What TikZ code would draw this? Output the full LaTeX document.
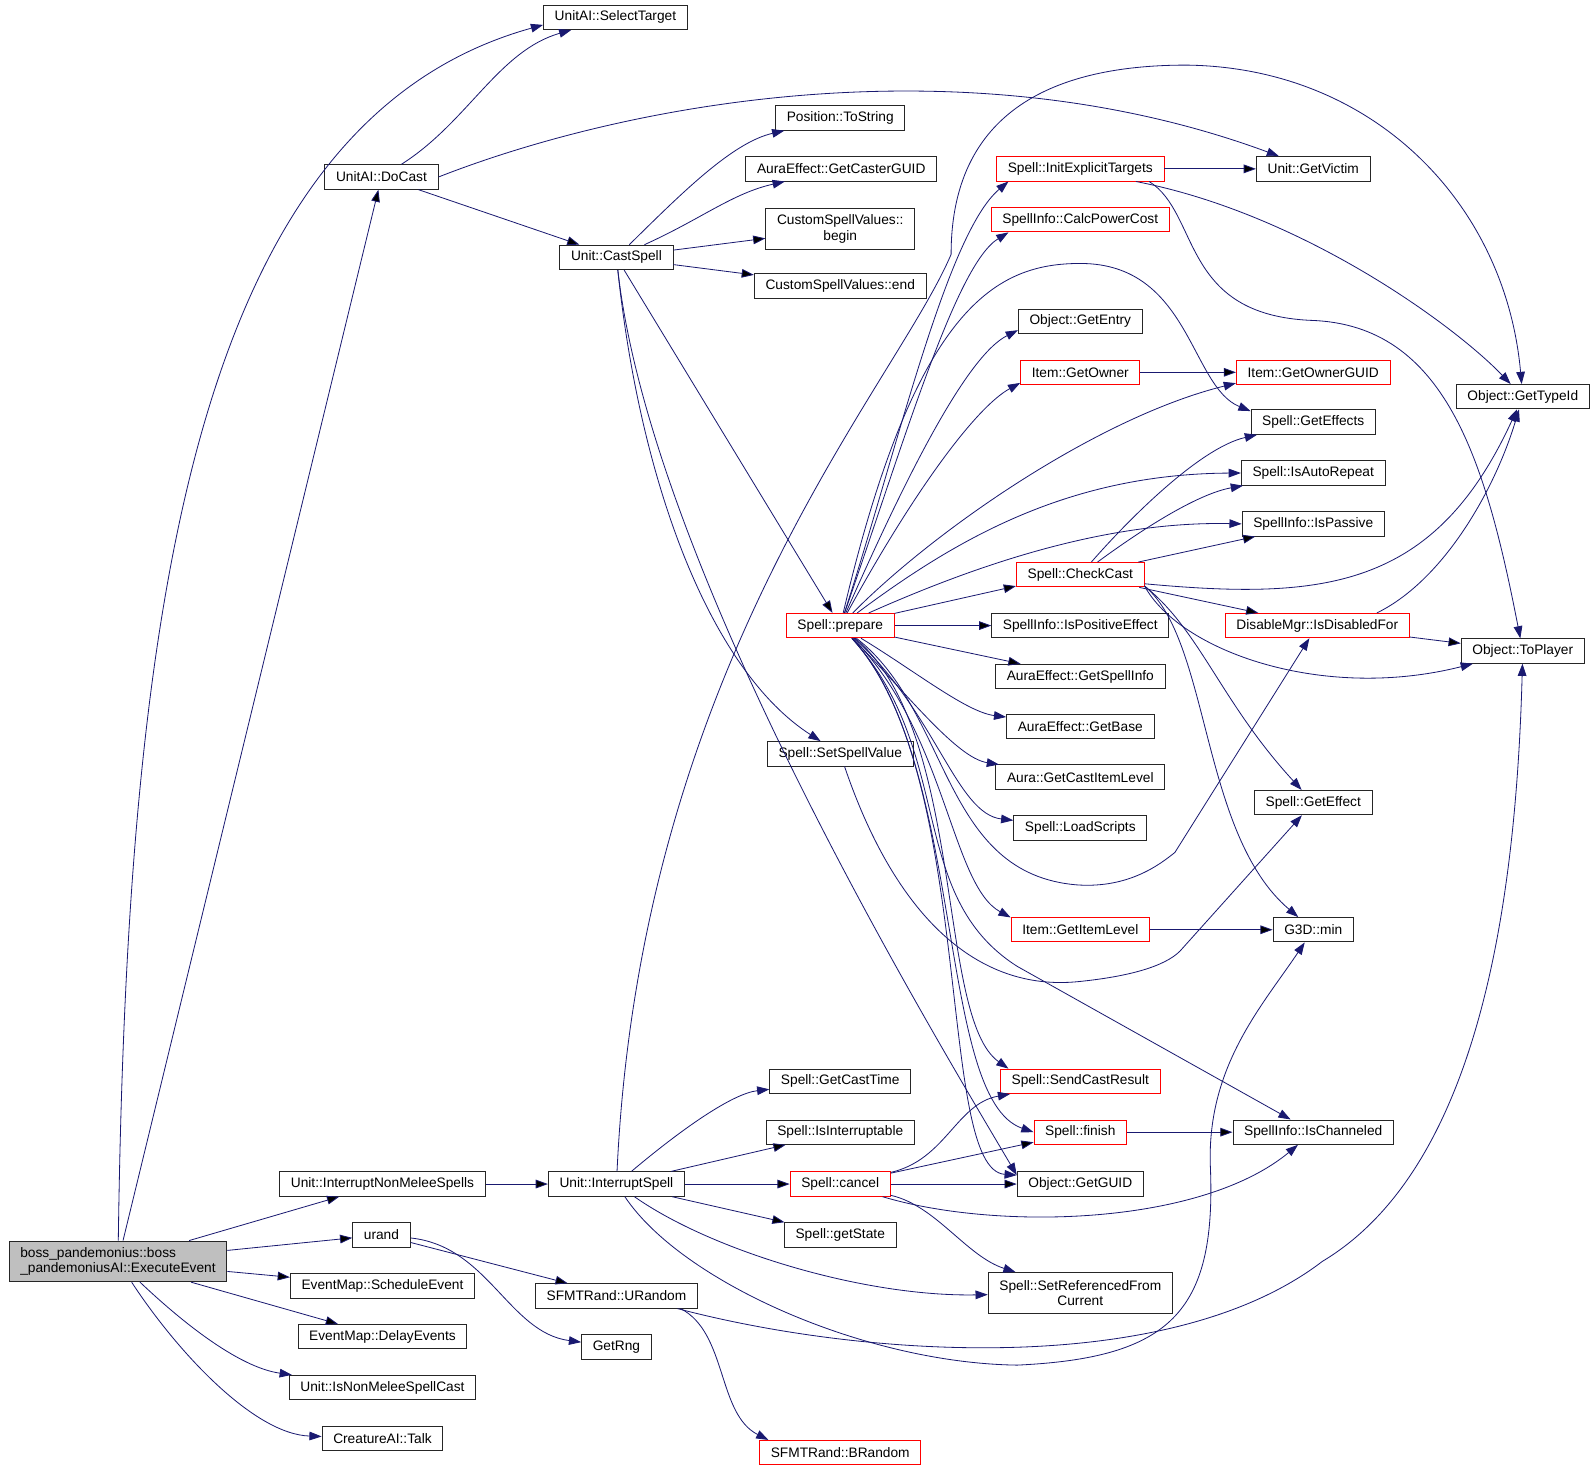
\documentclass[tikz,border=0pt]{standalone}
\usepackage{fontspec}
\setmainfont{Liberation Sans}
\usetikzlibrary{arrows.meta}
\definecolor{edgeblue}{HTML}{191970}
\definecolor{fngray}{HTML}{BFBFBF}
\begin{document}
\begin{tikzpicture}[x=1pt, y=-1pt,
    fn/.style={rectangle, draw=black!85, line width=0.9pt, fill=white, minimum height=24pt,
      inner xsep=11pt, inner ysep=2pt, font=\fontsize{13.5}{15}\selectfont},
    fnred/.style={fn, draw=red},
    twoline/.style={minimum height=40pt},
    call/.style={draw=edgeblue, line width=0.8pt, -{Triangle[length=12pt,width=8.5pt]}}]
  \useasboundingbox (0,0) rectangle (1568,1447);

  \node[fn] (selt) at (605,17) {UnitAI::SelectTarget};
  \node[fn] (docast) at (375,174) {UnitAI::DoCast};
  \node[fn] (tostr) at (826,116) {Position::ToString};
  \node[fn] (cguid) at (827,166) {AuraEffect::GetCasterGUID};
  \node[fn, twoline, align=center] (csvb) at (826,225) {CustomSpellValues::\\begin};
  \node[fn] (csve) at (826,281) {CustomSpellValues::end};
  \node[fn] (cast) at (606,253) {Unit::CastSpell};
  \node[fnred] (iet) at (1062,166) {Spell::InitExplicitTargets};
  \node[fn] (victim) at (1291,166) {Unit::GetVictim};
  \node[fnred] (cpc) at (1062,216) {SpellInfo::CalcPowerCost};
  \node[fn] (entry) at (1062,316) {Object::GetEntry};
  \node[fnred] (owner) at (1062,366) {Item::GetOwner};
  \node[fnred] (ownguid) at (1291,366) {Item::GetOwnerGUID};
  \node[fn] (typeid) at (1497,390) {Object::GetTypeId};
  \node[fn] (effects) at (1291,415) {Spell::GetEffects};
  \node[fn] (autorep) at (1291,465) {Spell::IsAutoRepeat};
  \node[fn] (passive) at (1291,515) {SpellInfo::IsPassive};
  \node[fnred] (check) at (1062,565) {Spell::CheckCast};
  \node[fnred] (prepare) at (826,615) {Spell::prepare};
  \node[fn] (posfx) at (1062,615) {SpellInfo::IsPositiveEffect};
  \node[fnred] (disabled) at (1295,615) {DisableMgr::IsDisabledFor};
  \node[fn] (toplayer) at (1497,640) {Object::ToPlayer};
  \node[fn] (spinfo) at (1062,665) {AuraEffect::GetSpellInfo};
  \node[fn] (base) at (1062,714) {AuraEffect::GetBase};
  \node[fn] (cil) at (1062,764) {Aura::GetCastItemLevel};
  \node[fn] (setval) at (826,741) {Spell::SetSpellValue};
  \node[fn] (scripts) at (1062,814) {Spell::LoadScripts};
  \node[fn] (effect) at (1291,789) {Spell::GetEffect};
  \node[fnred] (itemlvl) at (1062,914) {Item::GetItemLevel};
  \node[fn] (min) at (1291,914) {G3D::min};
  \node[fnred] (result) at (1062,1063) {Spell::SendCastResult};
  \node[fn] (casttime) at (826,1063) {Spell::GetCastTime};
  \node[fn] (interruptable) at (826,1113) {Spell::IsInterruptable};
  \node[fnred] (finish) at (1062,1113) {Spell::finish};
  \node[fn] (channeled) at (1291,1113) {SpellInfo::IsChanneled};
  \node[fn] (inms) at (376,1164) {Unit::InterruptNonMeleeSpells};
  \node[fn] (isp) at (606,1164) {Unit::InterruptSpell};
  \node[fnred] (cancel) at (826,1164) {Spell::cancel};
  \node[fn] (guid) at (1062,1164) {Object::GetGUID};
  \node[fn] (urand) at (375,1214) {urand};
  \node[fn, twoline, fill=fngray, align=left] (boss) at (116,1240) {boss\_pandemonius::boss\\\_pandemoniusAI::ExecuteEvent};
  \node[fn] (state) at (826,1214) {Spell::getState};
  \node[fn] (sched) at (376,1264) {EventMap::ScheduleEvent};
  \node[fn] (urandom) at (606,1274) {SFMTRand::URandom};
  \node[fn, twoline, align=center] (setref) at (1062,1271) {Spell::SetReferencedFrom\\Current};
  \node[fn] (delay) at (376,1314) {EventMap::DelayEvents};
  \node[fn] (rng) at (606,1324) {GetRng};
  \node[fn] (nonmelee) at (376,1364) {Unit::IsNonMeleeSpellCast};
  \node[fn] (talk) at (376,1414) {CreatureAI::Talk};
  \node[fnred] (brandom) at (826,1428) {SFMTRand::BRandom};

  \path[call]
    (boss) edge (docast)
           edge (inms)
           edge (urand)
           edge (sched)
           edge (delay)
    (docast) edge (cast)
    (cast) edge (csvb)
           edge (csve)
           edge (prepare)
    (prepare) edge (check.190)
              edge (posfx)
              edge (spinfo)
    (check) edge (passive)
            edge (disabled)
    (iet) edge (victim)
    (owner) edge (ownguid)
    (disabled) edge (toplayer)
    (itemlvl) edge (min)
    (finish) edge (channeled)
    (cancel) edge (finish)
             edge (guid)
    (isp) edge (interruptable)
          edge (cancel)
          edge (state)
    (inms) edge (isp)
    (urand) edge (urandom);

  \draw[call] (boss) .. controls (125,600) and (190,120) .. (selt.186);
  \draw[call] (boss) .. controls (190,1310) and (240,1345) .. (nonmelee);
  \draw[call] (boss) .. controls (175,1330) and (250,1410) .. (talk);
  \draw[call] (docast) .. controls (460,120) and (490,50) .. (selt);
  \draw[call] (docast.east) .. controls (620,100) and (950,40) .. (victim);
  \draw[call] (cast) .. controls (670,190) and (720,140) .. (tostr);
  \draw[call] (cast) .. controls (690,215) and (720,190) .. (cguid);
  \draw[call] (cast) .. controls (630,480) and (700,660) .. (setval);
  \draw[call] (cast) .. controls (640,560) and (920,1020) .. (guid.172);

  \draw[call] (prepare) .. controls (880,450) and (930,230) .. (iet.190);
  \draw[call] (prepare) .. controls (890,430) and (940,260) .. (cpc.190);
  \draw[call] (prepare) .. controls (900,300) and (980,259) .. (1062,259)
    .. controls (1170,259) and (1170,380) .. (effects.170);
  \draw[call] (prepare) .. controls (890,470) and (950,350) .. (entry.188);
  \draw[call] (prepare) .. controls (900,480) and (960,400) .. (owner.190);
  \draw[call] (prepare) .. controls (920,520) and (1080,410) .. (ownguid.188);
  \draw[call] (prepare) .. controls (940,530) and (1050,466) .. (autorep.west);
  \draw[call] (prepare) .. controls (950,560) and (1080,512) .. (passive.west);
  \draw[call] (prepare) .. controls (900,660) and (950,700) .. (base);
  \draw[call] (prepare) .. controls (890,680) and (940,745) .. (cil);
  \draw[call] (prepare) .. controls (920,700) and (940,800) .. (scripts);
  \draw[call] (prepare) .. controls (935,700) and (925,860) .. (1060,870)
    .. controls (1110,873) and (1140,850) .. (1155,838) -- (disabled);
  \draw[call] (prepare) .. controls (930,720) and (935,870) .. (itemlvl.170);
  \draw[call] (prepare) .. controls (950,720) and (920,1000) .. (result.170);
  \draw[call] (prepare) .. controls (950,750) and (920,1080) .. (finish.west);
  \draw[call] (prepare) .. controls (960,760) and (920,1150) .. (guid.172);
  \draw[call] (prepare) .. controls (940,740) and (890,880) .. (1000,950) -- (channeled);
  \draw[call] (setval) .. controls (880,900) and (960,975) .. (1060,965)
    .. controls (1110,960) and (1145,950) .. (1160,935) -- (effect);

  \draw[call] (check) .. controls (1110,510) and (1180,440) .. (effects);
  \draw[call] (check) .. controls (1130,515) and (1180,485) .. (autorep);
  \draw[call] (check.-8) .. controls (1300,590) and (1410,580) .. (typeid);
  \draw[call] (check.-10) .. controls (1160,640) and (1300,690) .. (toplayer);
  \draw[call] (check.-10) .. controls (1180,620) and (1200,690) .. (effect);
  \draw[call] (check.-10) .. controls (1190,630) and (1180,820) .. (min);
  \draw[call] ([xshift=-28pt]iet.south east) .. controls (1280,210) and (1430,320) .. (typeid);
  \draw[call] ([xshift=-15pt]iet.south east) .. controls (1180,210) and (1160,310) .. (1290,315)
    .. controls (1420,320) and (1460,450) .. (toplayer);
  \draw[call] (disabled.12) .. controls (1420,570) and (1470,480) .. (typeid);

  \draw[call] (cancel) .. controls (930,1140) and (940,1085) .. (result);
  \draw[call] (cancel) .. controls (980,1210) and (1180,1205) .. (channeled);
  \draw[call] (cancel) .. controls (920,1185) and (950,1235) .. (setref);
  \draw[call] (isp) .. controls (670,1110) and (720,1075) .. (casttime);
  \draw[call] (isp) .. controls (700,1230) and (850,1275) .. (setref);
  \draw[call] (isp) .. controls (630,650) and (880,380) .. (935,250)
    .. controls (935,100) and (1050,64) .. (1166,64)
    .. controls (1350,66) and (1480,200) .. (typeid);
  \draw[call] (isp) .. controls (670,1260) and (850,1340) .. (1000,1342)
    .. controls (1150,1335) and (1195,1290) .. (1190,1150)
    .. controls (1185,1050) and (1240,990) .. (min);
  \draw[call] ([xshift=-20pt]urandom.south east) .. controls (850,1335) and (1150,1355) .. (1300,1240)
    .. controls (1450,1150) and (1490,900) .. (toplayer);
  \draw[call] ([xshift=-17pt]urandom.south east) .. controls (715,1310) and (705,1390) .. (brandom.170);
  \draw[call] (urand) .. controls (480,1225) and (500,1310) .. (rng);
\end{tikzpicture}
\end{document}
